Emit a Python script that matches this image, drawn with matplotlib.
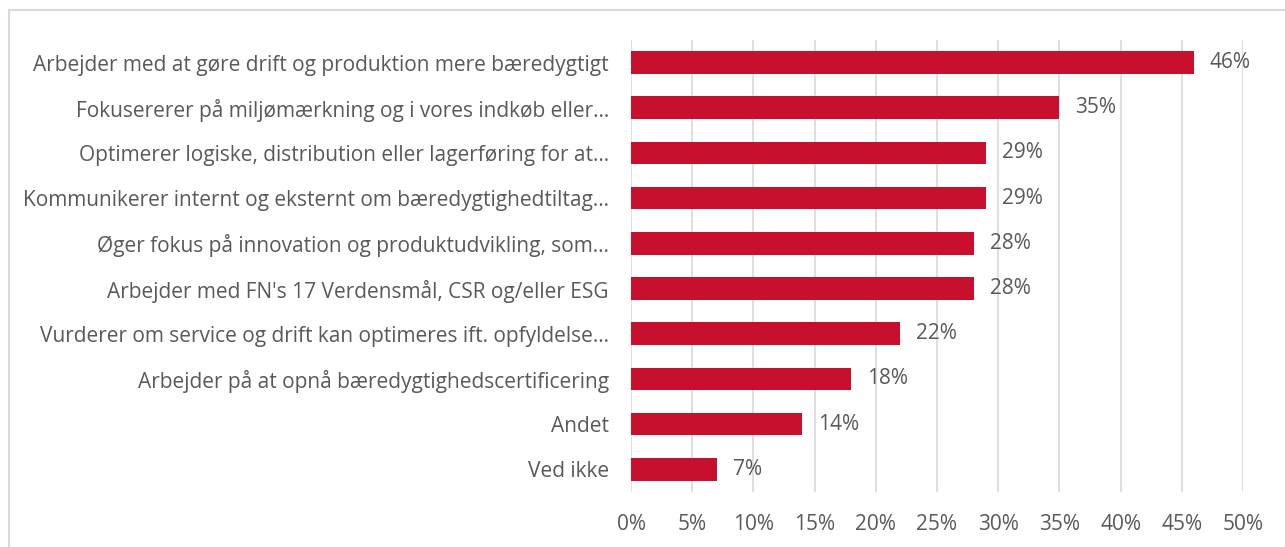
import matplotlib.pyplot as plt
from matplotlib.patches import Rectangle
from matplotlib.ticker import FuncFormatter

# survey answers, top to bottom as shown
labels = [
    "Arbejder med at gøre drift og produktion mere bæredygtigt",
    "Fokusererer på miljømærkning og i vores indkøb eller…",
    "Optimerer logiske, distribution eller lagerføring for at…",
    "Kommunikerer internt og eksternt om bæredygtighedtiltag…",
    "Øger fokus på innovation og produktudvikling, som…",
    "Arbejder med FN's 17 Verdensmål, CSR og/eller ESG",
    "Vurderer om service og drift kan optimeres ift. opfyldelse…",
    "Arbejder på at opnå bæredygtighedscertificering",
    "Andet",
    "Ved ikke",
]
values = [46, 35, 29, 29, 28, 28, 22, 18, 14, 7]
xticks = [0, 5, 10, 15, 20, 25, 30, 35, 40, 45, 50]

bar_color = "#C8102E"
text_color = "#595959"
grid_color = "#D9D9D9"
fs = 15

plt.rcParams['font.family'] = ['Open Sans', 'DejaVu Sans']

fig = plt.figure(figsize=(12.85, 5.47), dpi=100, facecolor='white')
ax = fig.add_axes([631/1285, 1 - 492/547, (1243-631)/1285, (492-40)/547])

pos = list(range(len(labels)))
ax.barh(pos, values, height=0.5, color=bar_color, zorder=3)
for p, v in zip(pos, values):
    ax.text(v + 1.3, p, f"{v}%", va='center', ha='left', fontsize=fs, color=text_color)

ax.set_ylim(len(labels) - 0.5, -0.5)
ax.set_xlim(0, 50)
ax.set_yticks(pos)
ax.set_yticklabels(labels, fontsize=fs, color=text_color)
ax.set_xticks(xticks)
ax.xaxis.set_major_formatter(FuncFormatter(lambda x, _: f"{int(x)}%"))
ax.tick_params(axis='x', labelsize=fs, labelcolor=text_color, length=0, pad=16)
ax.tick_params(axis='y', length=0, pad=16)
ax.grid(axis='x', color=grid_color, linewidth=1.2, zorder=0)
for s in ax.spines.values():
    s.set_visible(False)

# outer chart border
fig.patches.append(Rectangle((9/1285, -0.01), 1.02, 1 - 10/547 + 0.01, transform=fig.transFigure,
                             fill=False, edgecolor=grid_color, linewidth=1.5))

fig.savefig("out.png", dpi=100, facecolor='white')
